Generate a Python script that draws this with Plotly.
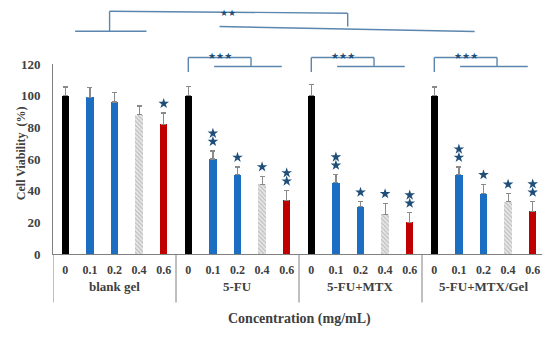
import plotly.graph_objects as go

# ---- data ----
groups = ["blank gel", "5-FU", "5-FU+MTX", "5-FU+MTX/Gel"]
concs = ["0", "0.1", "0.2", "0.4", "0.6"]
viability = [100, 99, 96, 88, 82,
             100, 60, 50, 44, 34,
             100, 45, 30, 25, 20,
             100, 50, 38, 33, 27]
errors = [5.5, 6, 6, 5.5, 7,
          6, 5, 5, 5, 6,
          7, 5, 3, 7, 6,
          5.5, 5, 6, 5, 6]
stars = [0, 0, 0, 0, 1,
         0, 2, 1, 1, 2,
         0, 2, 1, 1, 2,
         0, 2, 1, 1, 2]
y_ticks = [0, 20, 40, 60, 80, 100, 120]

# ---- styles ----
TXT = "#404040"
BR = "#5b86ad"
STAR = "#1f4e79"
FONT = "Liberation Serif"
conc_style = {
    "0": dict(color="#000000"),
    "0.1": dict(color="#1b6ec2"),
    "0.2": dict(color="#1b6ec2"),
    "0.4": dict(color="#d9d9d9", pattern=dict(shape="\\", fgcolor="#8c8c8c",
                                               bgcolor="#e6e6e6", size=3, solidity=0.35)),
    "0.6": dict(color="#c00000"),
}

n = len(concs)
xs = list(range(len(viability)))

fig = go.Figure()
for ci, c in enumerate(concs):
    idx = [i for i in xs if i % n == ci]
    fig.add_trace(go.Bar(
        x=idx, y=[viability[i] for i in idx],
        width=0.3,
        marker=dict(line=dict(width=0), **conc_style[c]),
        error_y=dict(type="data", symmetric=False,
                     array=[errors[i] for i in idx],
                     arrayminus=[0] * len(idx),
                     color="#8a8a8a", thickness=1.2, width=2.5),
        showlegend=False,
    ))

# significance stars above bars
sx, sy = [], []
for i in xs:
    for k in range(stars[i]):
        sx.append(i)
        sy.append(viability[i] + errors[i] + 6 + 5.2 * k)
fig.add_trace(go.Scatter(x=sx, y=sy, mode="markers",
                         marker=dict(symbol="star", size=8, color=STAR,
                                     line=dict(width=0)),
                         showlegend=False, cliponaxis=False))

shapes = []
annotations = []


def py(px):
    # window pixel row -> paper coordinate (plot area rows 64.5..254.5)
    return (254.5 - px) / 190.0


def seg(x0, y0, x1, y1, color=BR, w=1.4):
    shapes.append(dict(type="line", xref="x", yref="paper", x0=x0, x1=x1,
                       y0=y0, y1=y1, line=dict(color=color, width=w)))


# group dividers under the x axis
for g in range(len(groups) + 1):
    seg(g * n - 0.5, 0, g * n - 0.5, py(303), color="#808080", w=1)

# group labels
for g, name in enumerate(groups):
    annotations.append(dict(x=g * n + (n - 1) / 2, y=py(295.5), xref="x", yref="paper",
                            text=name, showarrow=False, borderpad=0,
                            font=dict(family=FONT, size=13, color=TXT, weight="bold")))

# sub-brackets for drug groups
for g in range(1, len(groups)):
    b = g * n
    seg(b, py(72.5), b, py(58))
    seg(b, py(58), b + 2.55, py(58))
    seg(b + 2.55, py(58), b + 2.55, py(67))
    seg(b + 1.05, py(67), b + 3.8, py(67))
    annotations.append(dict(x=b + 1.27, y=py(49), xref="x", yref="paper",
                            text="★★★", showarrow=False,
                            font=dict(family="DejaVu Sans", size=9, color=STAR)))

# top bracket
seg(0.4, py(31.7), 3.3, py(31.7))
seg(1.8, py(31.7), 1.8, py(11.7))
seg(1.8, py(11.7), 11.48, py(13.7))
seg(11.48, py(13.7), 11.48, py(27))
seg(6.27, py(27), 16.64, py(32))
annotations.append(dict(x=6.6, y=py(6.5), xref="x", yref="paper",
                        text="★★", showarrow=False,
                        font=dict(family="DejaVu Sans", size=9, color=STAR)))

# axis titles
annotations.append(dict(x=(n * len(groups) - 1) / 2, y=py(329), xref="x", yref="paper",
                        text="Concentration (mg/mL)", showarrow=False,
                        font=dict(family=FONT, size=14, color=TXT, weight="bold")))
annotations.append(dict(x=-0.084, y=py(154), xref="paper", yref="paper",
                        text="Cell Viability  (%)", textangle=-90, showarrow=False,
                        font=dict(family=FONT, size=12, color=TXT, weight="bold")))

# the page body has an 8px margin, so the figure is 8px smaller and the
# plot area is offset accordingly to land at the reference position
fig.update_layout(
    width=542, height=332,
    margin=dict(l=45, r=5, t=56, b=86),
    paper_bgcolor="white", plot_bgcolor="white",
    bargap=0, barmode="overlay",
    shapes=shapes, annotations=annotations,
    font=dict(family=FONT, color=TXT),
    xaxis=dict(range=[-0.5, len(viability) - 0.5], tickmode="array",
               tickvals=xs, ticktext=[concs[i % n] for i in xs],
               showgrid=False, zeroline=False, showline=True,
               linecolor="#808080", linewidth=1, ticks="",
               ticklabelstandoff=5,
               tickfont=dict(family=FONT, size=12, color=TXT, weight="bold")),
    yaxis=dict(range=[0, 120], tickmode="array", tickvals=y_ticks,
               showgrid=False, zeroline=False, showline=True,
               linecolor="#808080", linewidth=1, ticks="",
               ticklabelstandoff=9,
               tickfont=dict(family=FONT, size=13, color=TXT, weight="bold")),
)

fig.write_html("out.html")
